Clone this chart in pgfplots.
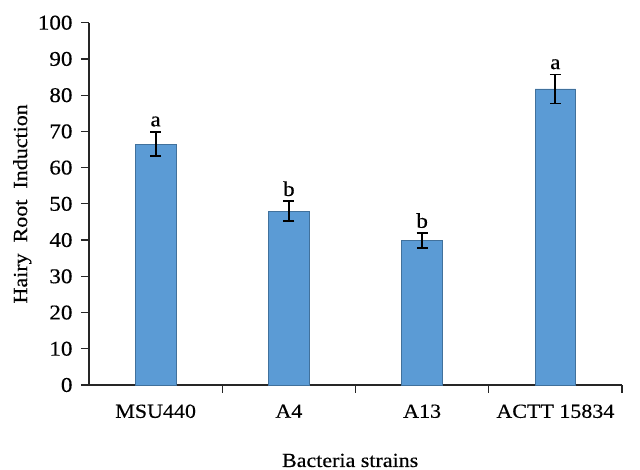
\documentclass[border=0pt]{standalone}
\usepackage{fontspec}
\setmainfont{Liberation Serif}[FakeStretch=1.1, FakeBold=0.4]
\usepackage{pgfplots}
\pgfplotsset{compat=1.18}
\definecolor{barblue}{RGB}{91,155,213}
\definecolor{baredge}{RGB}{65,113,156}
\begin{document}
\begin{tikzpicture}[x=1pt,y=1pt]
\path[use as bounding box] (-89,-85) rectangle (551,385);
\begin{axis}[
  at={(0,0)}, anchor=south west,
  scale only axis,
  width=533pt, height=362.3pt,
  xmin=-0.5, xmax=3.5, ymin=0, ymax=100,
  axis lines*=left,
  axis line style={line width=1.2pt, black!85},
  tick align=outside,
  major tick length=8pt,
  tick style={line width=1.2pt, black!85},
  ytick={0,10,...,100},
  xtick={0.5,1.5,2.5,3.5},
  xticklabels={MSU440,A4,A13,ACTT 15834},
  x tick label style={xshift=-66.6pt, yshift=-8pt, font=\fontsize{20}{22}\selectfont},
  y tick label style={xshift=-5pt, font=\fontsize{21}{23}\selectfont},
  /pgf/number format/assume math mode=true,
  xlabel={Bacteria strains},
  ylabel={Hairy\ \ Root\ \ Induction},
  label style={font=\fontsize{20}{22}\selectfont},
  xlabel style={at={(axis description cs:0.49,-0.2263)}, anchor=base, inner sep=0pt},
  ylabel style={at={(axis description cs:-0.1426,0.5)}, anchor=north, rotate=0, inner sep=0pt},
  clip=false,
]
\addplot[ybar, bar width=40.7pt, fill=barblue, draw=baredge, line width=0.6pt,
  error bars/.cd, y dir=both, y explicit,
  error bar style={line width=1.8pt, black},
  error mark options={rotate=90, mark size=5.5pt, line width=1.8pt, black}]
  coordinates {(0,66.5) +- (0,3.4) (1,48.0) +- (0,2.7) (2,39.9) +- (0,2.0) (3,81.7) +- (0,4.0)};
\addplot[draw=none, mark=none, nodes near coords, point meta=explicit symbolic,
  nodes near coords style={anchor=south, inner sep=0pt, yshift=5pt, font=\fontsize{21}{23}\selectfont}]
  coordinates {(0,69.9)[a] (1,50.7)[b] (2,41.9)[b] (3,85.7)[a]};
\end{axis}
\end{tikzpicture}
\end{document}
